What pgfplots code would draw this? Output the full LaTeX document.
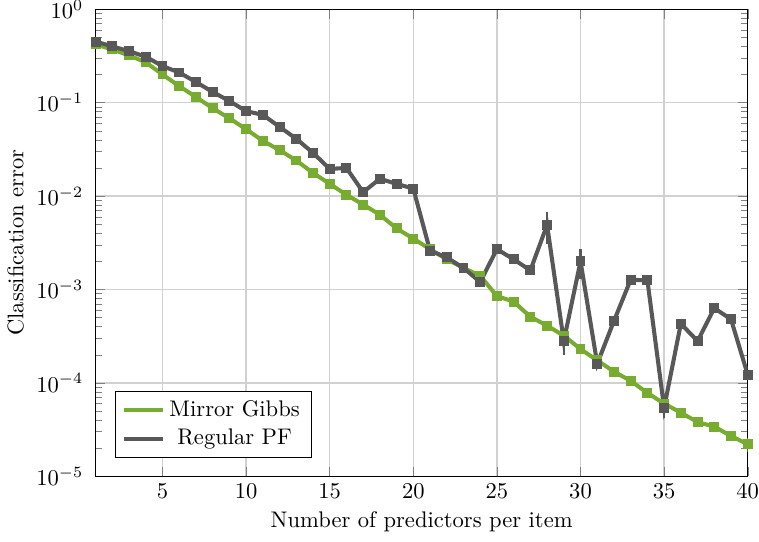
\documentclass[border=0pt]{standalone}
\usepackage{pgfplots}
\pgfplotsset{compat=1.18}
\definecolor{mgreen}{RGB}{119,172,48}
\definecolor{mgray}{RGB}{88,88,88}
\begin{document}
\begin{tikzpicture}
\begin{axis}[
  scale only axis,
  width=289pt, height=207pt,
  ymode=log,
  xmin=1, xmax=40, ymin=1e-5, ymax=1,
  xtick={5,10,...,40},
  ytick={1e-5,1e-4,1e-3,1e-2,1e-1,1},
  grid=major,
  major grid style={draw=black!18, line width=0.6pt},
  xlabel={Number of predictors per item},
  ylabel={Classification error},
  every tick label/.append style={inner sep=0pt},
  yticklabel style={xshift=-5.3pt},
  xticklabel style={yshift=-3.3pt},
  ylabel style={yshift=2pt},
  xlabel style={inner ysep=4.3pt, yshift=-1.2pt},
  legend style={at={(0.03,0.04)}, anchor=south west, draw=black, cells={align=center}},
  legend cell align=center,
  legend image code/.code={\draw[#1] (0cm,0cm) -- (0.6cm,0cm);},
  every axis plot/.append style={line width=1.8pt},
  error bars/y dir=both, error bars/y explicit,
  error bars/error mark=none,
  error bars/error bar style={line width=1pt},
]
\addplot[color=mgreen, mark=square*, mark size=1.3pt] coordinates {
(1,0.42) (2,0.37) (3,0.32) (4,0.27) (5,0.20) (6,0.15) (7,0.115) (8,0.087)
(9,0.068) (10,0.052) (11,0.039) (12,0.031) (13,0.024) (14,0.0177) (15,0.0135)
(16,0.0103) (17,0.0081) (18,0.0063) (19,0.0045) (20,0.0035) (21,0.0027)
(22,0.0021) (23,0.0017) (24,0.0014) (25,0.00085) (26,0.00074) (27,0.00051)
(28,0.00041) (29,0.00032) (30,0.00023) (31,0.000174) (32,0.000132)
(33,0.000105) (34,0.000078) (35,0.000060) (36,0.000048) (37,0.000038)
(38,0.000034) (39,0.000027) (40,0.000022) +- (0,0.000004)
};
\addlegendentry{Mirror Gibbs}
\addplot[color=mgray, mark=square*, mark size=1.3pt] coordinates {
(1,0.45) (2,0.40) (3,0.355) (4,0.31) (5,0.246) (6,0.21) (7,0.166) (8,0.13)
(9,0.104) (10,0.081) (11,0.074) (12,0.055) (13,0.041) (14,0.029) (15,0.0195)
(16,0.0200) (17,0.011) (18,0.0153) (19,0.0135) (20,0.0120) (21,0.0026)
(22,0.0022) (23,0.0017) (24,0.0012) (25,0.0027) (26,0.0021) (27,0.0016)
(28,0.0049) +- (0,0.0018) (29,0.00028) +- (0,0.00008) (30,0.0020) +- (0,0.0007)
(31,0.00016) +- (0,0.00002) (32,0.00046) (33,0.00127) (34,0.00125)
(35,0.000054) +- (0,0.000012) (36,0.00043) (37,0.00028) (38,0.00063)
(39,0.00048) (40,0.000122)
};
\addlegendentry{Regular PF}
\end{axis}
\end{tikzpicture}
\end{document}
